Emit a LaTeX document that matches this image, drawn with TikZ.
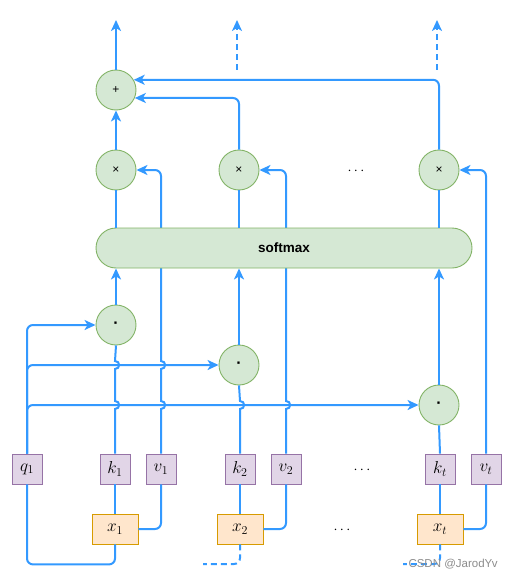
\documentclass[tikz,border=0pt]{standalone}
\usepackage{fontspec}
\setsansfont{Liberation Sans}
\usetikzlibrary{arrows.meta,calc}
\definecolor{lblue}{HTML}{3399FF}
\definecolor{gfill}{HTML}{D5E8D4}
\definecolor{gdraw}{HTML}{82B366}
\definecolor{pfill}{HTML}{E1D5E7}
\definecolor{pdraw}{HTML}{9673A6}
\definecolor{ofill}{HTML}{FFE6CC}
\definecolor{odraw}{HTML}{D79B00}
\newcommand\jmp{.. controls +(5.5,0) and +(5.5,0) .. ++(0,-8)}
\begin{document}
\begin{tikzpicture}[x=1pt,y=-1pt,
  conn/.style={draw=lblue, line width=2pt},
  arr/.style={conn, -{Stealth[length=11pt,width=10pt,inset=3pt]}},
  dsh/.style={dash pattern=on 6pt off 4pt},
  opnode/.style={circle, minimum size=40pt, inner sep=0pt, fill=gfill, draw=gdraw, line width=0.9pt, font=\sffamily\fontsize{12}{12}\selectfont},
  dotnode/.style={opnode, font=\sffamily\bfseries\fontsize{16}{16}\selectfont},
  vecbox/.style={rectangle, minimum width=30pt, minimum height=30pt, inner sep=0pt, fill=pfill, draw=pdraw, line width=0.9pt, font=\fontsize{17}{17}\selectfont},
  inbox/.style={rectangle, minimum width=46pt, minimum height=30pt, inner sep=0pt, fill=ofill, draw=odraw, line width=0.9pt, font=\fontsize{17}{17}\selectfont},
  dotstxt/.style={font=\fontsize{15}{15}\selectfont}
]
\useasboundingbox (0,0) rectangle (514,578);

% nodes
\node[opnode] (plus) at (116,90) {+};
\node[opnode] (m1) at (116,170) {×};
\node[opnode] (m2) at (239,170) {×};
\node[opnode] (mt) at (439,170) {×};
\node[dotstxt] (mdots) at (356,171) {$\cdots$};
\node[dotnode] (d1) at (116,325) {·};
\node[dotnode] (d2) at (239,365) {·};
\node[dotnode] (dt) at (439,405) {·};
\node[vecbox] (q1) at (27,469) {$q_1$};
\node[vecbox] (k1) at (115,469) {$k_1$};
\node[vecbox] (v1) at (161,469) {$v_1$};
\node[vecbox] (k2) at (240,469) {$k_2$};
\node[vecbox] (v2) at (286,469) {$v_2$};
\node[dotstxt] (kdots) at (362,470) {$\cdots$};
\node[vecbox] (kt) at (440,469) {$k_t$};
\node[vecbox] (vt) at (486,469) {$v_t$};
\node[inbox] (x1) at (115,529) {$x_1$};
\node[inbox] (x2) at (240,529) {$x_2$};
\node[dotstxt] (xdots) at (342,530) {$\cdots$};
\node[inbox] (xt) at (440,529) {$x_t$};

\coordinate (o1) at (116,20);
\coordinate (s2) at (237,70);
\coordinate (o2) at (237,20);
\coordinate (s3) at (437,70);
\coordinate (o3) at (437,20);
\coordinate (e2) at (203,564);
\coordinate (e3) at (403,564);

% value lines (under softmax)
\draw[arr] (v1.north) -- ($(v1.north|-dt.west)+(0,4)$) \jmp -- ($(v1.north|-d2.west)+(0,4)$) \jmp -- ++(0,-1) [rounded corners=6] |- (m1.east);
\draw[arr] (v2.north) -- ($(v2.north|-dt.west)+(0,4)$) \jmp -- ++(0,-1) [rounded corners=6] |- (m2.east);
\draw[arr, rounded corners=6] (vt.north) |- (mt.east);

% softmax
\node[rectangle, rounded corners=20pt, minimum width=376pt, minimum height=40pt, fill=gfill, draw=gdraw, line width=0.9pt, font=\sffamily\bfseries\fontsize{13.5}{13.5}\selectfont] (softmax) at (284,248) {softmax};

% outputs
\draw[arr] (plus.north) -- (o1);
\draw[arr, dsh] (s2) -- (o2);
\draw[arr, dsh] (s3) -- (o3);
\draw[arr] (m1.north) -- (plus.south);
\draw[arr, rounded corners=6] (m2.north) |- (plus.-23.6);
\draw[arr, rounded corners=6] (mt.north) |- (plus.30);

% softmax to multiply
\draw[conn] (m1.south |- softmax.north) -- (m1.south);
\draw[conn] (m2.south |- softmax.north) -- (m2.south);
\draw[conn] (mt.south |- softmax.north) -- (mt.south);

% dot to softmax
\draw[arr] (d1.north) -- (d1.north |- softmax.south);
\draw[arr] (d2.north) -- (d2.north |- softmax.south);
\draw[arr] (dt.north) -- (dt.north |- softmax.south);

% query lines
\draw[arr, rounded corners=6] (q1.north) |- (d1.west);
\draw[arr, rounded corners=6] (q1.north) |- (d2.west);
\draw[arr, rounded corners=6] (q1.north) |- (dt.west);

% key lines
\draw[conn] (k1.north) -- ($(k1.north|-dt.west)+(0,4)$) \jmp -- ($(k1.north|-d2.west)+(0,4)$) \jmp -- (d1.south);
\draw[conn] (k2.north) -- ($(k2.north|-dt.west)+(0,4)$) \jmp -- (d2.south);
\draw[conn] (kt.north) -- (dt.south);

% inputs
\draw[conn] (x1.north) -- (k1.south);
\draw[conn] (x2.north) -- (k2.south);
\draw[conn] (xt.north) -- (kt.south);
\draw[conn, rounded corners=6] (x1.east) -| (v1.south);
\draw[conn, rounded corners=6] (x2.east) -| (v2.south);
\draw[conn, rounded corners=6] (xt.east) -| (vt.south);
\draw[conn, rounded corners=6] (x1.south) -- ++(0,20) -| (q1.south);
\draw[conn, dsh, rounded corners=6] (x2.south) |- (e2);
\draw[conn, dsh, rounded corners=6] (xt.south) |- (e3);

\node[text=black!45, font=\sffamily\fontsize{11.5}{11.5}\selectfont] (wm) at (453,564) {CSDN @JarodYv};
\end{tikzpicture}
\end{document}
